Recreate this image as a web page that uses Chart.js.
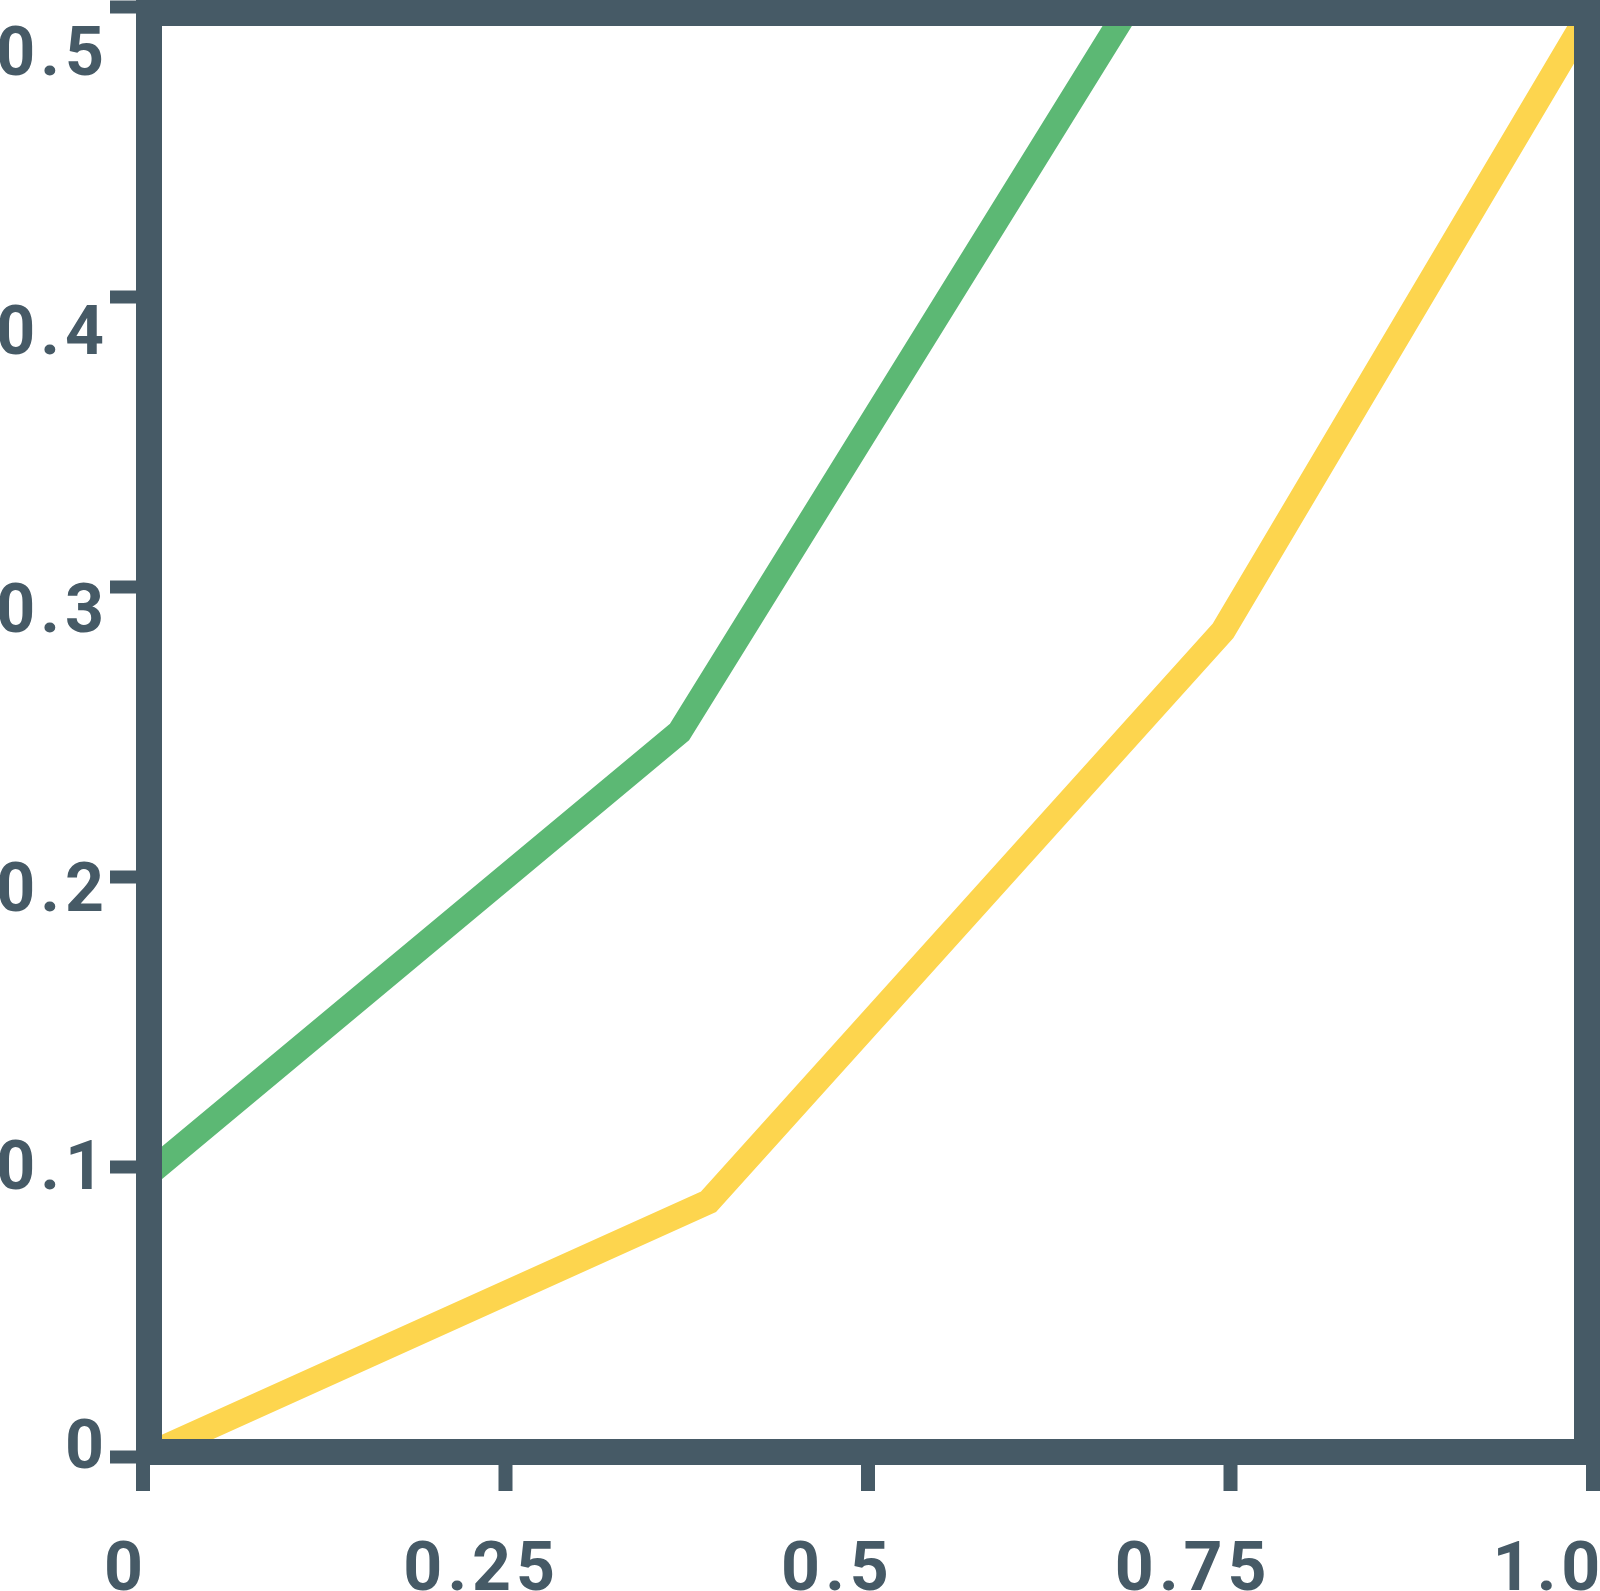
<!DOCTYPE html>
<html>
<head>
<meta charset="utf-8">
<script src="https://cdn.jsdelivr.net/npm/chart.js@4/dist/chart.umd.min.js"></script>
<style>
  html, body { margin: 0; padding: 0; background: #fff; overflow: hidden; }
  #wrap { width: 1600px; height: 1591px; position: relative; }
</style>
</head>
<body>
<div id="wrap"><canvas id="myChart"></canvas></div>
<script>
"use strict"

// data
const greenX = [0, 0.37, 0.68];
const greenY = [0.096, 0.25, 0.5];
const yellowX = [0, 0.39, 0.745, 1.0];
const yellowY = [0, 0.088, 0.285, 0.5];

// ticks and their labels
const xTicks = [0, 0.25, 0.5, 0.75, 1];
const xLabels = ['0', '0.25', '0.5', '0.75', '1.0'];
const yTicks = [0, 0.1, 0.2, 0.3, 0.4, 0.5];
const yLabels = ['0', '0.1', '0.2', '0.3', '0.4', '0.5'];

const slate = '#465a66';
const green = '#5cb874';
const yellow = '#fdd54e';

Chart.defaults.font.family = 'Roboto';

function toPoints(xs, ys) {
    return xs.map((x, i) => ({ x: x, y: ys[i] }));
}

// labels may hang over the plot edge, don't let them shrink the plot
function noPadding(s) {
    s.paddingLeft = 0;
    s.paddingRight = 0;
    s.paddingTop = 0;
    s.paddingBottom = 0;
}

// frame + tick marks, drawn over the lines
const framePlugin = {
    id: 'frame',
    beforeDraw(chart) {
        chart.ctx.letterSpacing = '5px';
    },
    afterDatasetsDraw(chart) {
        const ctx = chart.ctx;
        const x = chart.scales.x;
        const y = chart.scales.y;
        const left = x.getPixelForValue(0);
        const right = x.getPixelForValue(1);
        const top = y.getPixelForValue(0.5);
        const bottom = y.getPixelForValue(0);
        ctx.save();
        ctx.fillStyle = slate;
        ctx.strokeStyle = slate;
        ctx.lineWidth = 26;
        ctx.lineJoin = 'miter';
        ctx.strokeRect(left + 6, top + 6, (right - 6) - (left + 6), (bottom - 5) - (top + 6));
        // y tick marks
        y.ticks.forEach(t => {
            const py = y.getPixelForValue(t.value);
            ctx.fillRect(left - 33, py - 6.5, 33, 13);
        });
        // x tick marks
        x.ticks.forEach(t => {
            const px = x.getPixelForValue(t.value);
            ctx.fillRect(px - 7, bottom, 14, 34);
        });
        ctx.restore();
    }
};

let theChart = new Chart(document.getElementById('myChart'), {
    type: 'line',
    data: {
        datasets: [{
            data: toPoints(greenX, greenY),
            borderColor: green,
            borderWidth: 25,
            borderJoinStyle: 'miter',
            pointRadius: 0,
            tension: 0,
            clip: 0,
        }, {
            data: toPoints(yellowX, yellowY),
            borderColor: yellow,
            borderWidth: 25,
            borderJoinStyle: 'miter',
            pointRadius: 0,
            tension: 0,
            clip: 0,
        }]
    },
    options: {
        responsive: true,
        maintainAspectRatio: false,
        animation: false,
        layout: { padding: { top: 7, right: 7, left: 0, bottom: 0 } },
        plugins: {
            legend: { display: false },
            tooltip: { enabled: false },
        },
        scales: {
            // data axes (marks only, drawn by the frame plugin)
            x: {
                type: 'linear',
                display: false,
                min: 0,
                max: 1,
                afterBuildTicks: axis => { axis.ticks = xTicks.map(v => ({ value: v })); },
            },
            y: {
                type: 'linear',
                display: false,
                min: 0,
                max: 0.5,
                afterBuildTicks: axis => { axis.ticks = yTicks.map(v => ({ value: v })); },
            },
            // label axes: labels in the picture are spaced a bit tighter than the tick marks
            xl: {
                type: 'linear',
                position: 'bottom',
                bounds: 'data',
                min: 0.011947,
                max: 1.030921,
                grid: { display: false, drawTicks: false },
                border: { display: false },
                afterBuildTicks: axis => { axis.ticks = xTicks.map(v => ({ value: v })); },
                afterFit: s => { s.height = 134; noPadding(s); },
                ticks: {
                    autoSkip: false,
                    maxRotation: 0,
                    minRotation: 0,
                    padding: 75,
                    color: slate,
                    font: { size: 68, weight: 'bold' },
                    callback: (v, i) => xLabels[i],
                },
            },
            yl: {
                type: 'linear',
                position: 'left',
                bounds: 'data',
                min: -0.005025,
                max: 0.51544,
                grid: { display: false, drawTicks: false },
                border: { display: false },
                afterBuildTicks: axis => { axis.ticks = yTicks.map(v => ({ value: v })); },
                afterFit: s => { s.width = 143; noPadding(s); },
                ticks: {
                    autoSkip: false,
                    crossAlign: 'near',
                    padding: 34,
                    labelOffset: 8,
                    color: slate,
                    font: { size: 68, weight: 'bold' },
                    callback: (v, i) => yLabels[i],
                },
            },
        },
    },
    plugins: [framePlugin],
});
</script>
</body>
</html>
